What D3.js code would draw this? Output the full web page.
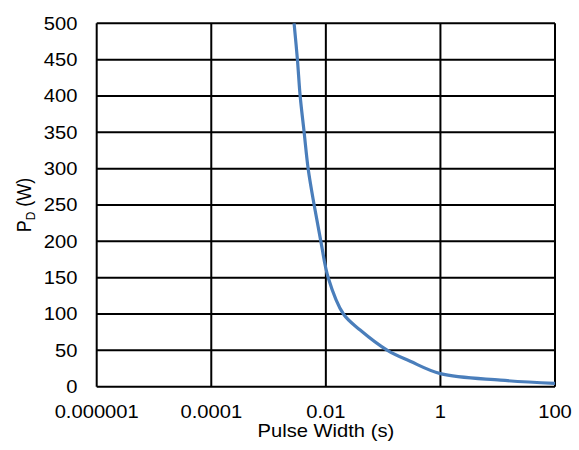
<!DOCTYPE html>
<html>
<head>
<meta charset="utf-8">
<script src="https://cdn.jsdelivr.net/npm/d3@7"></script>
<style>
  html, body { margin: 0; padding: 0; background: #fff; }
  svg { display: block; }
  text { font-family: "Liberation Sans", Arial, sans-serif; fill: #000; }
</style>
</head>
<body>
<svg id="chart" width="579" height="450"></svg>
<script>
// Maximum power dissipation versus pulse width
const pulseWidth = [0.00279, 0.00319, 0.00356, 0.00418, 0.00491, 0.00625, 0.00818, 0.011, 0.0203, 0.0397, 0.119, 0.297, 1, 11.2, 100];
const powerW     = [500, 450, 400, 350, 300, 250, 200, 150, 100, 78, 50, 35, 18, 9, 4.5];

const xTickValues = [1e-6, 1e-4, 1e-2, 1, 100];
const xTickLabels = ["0.000001", "0.0001", "0.01", "1", "100"];
const yTickValues = [0, 50, 100, 150, 200, 250, 300, 350, 400, 450, 500];
const yTickLabels = ["0", "50", "100", "150", "200", "250", "300", "350", "400", "450", "500"];

const plot = { left: 96.7, right: 555, top: 23.3, bottom: 386.7 };
const stretch = 1.12; // horizontal glyph width factor
const fontSize = 18;

const svg = d3.select("#chart");

const x = d3.scaleLog().domain([1e-6, 100]).range([plot.left, plot.right]);
const y = d3.scaleLinear().domain([0, 500]).range([plot.bottom, plot.top]);

// grid
const grid = svg.append("g").attr("stroke", "#000").attr("stroke-width", 2);
grid.selectAll("line.h").data(yTickValues).join("line")
  .attr("x1", plot.left).attr("x2", plot.right)
  .attr("y1", d => y(d)).attr("y2", d => y(d));
grid.selectAll("line.v").data(xTickValues).join("line")
  .attr("y1", plot.top).attr("y2", plot.bottom)
  .attr("x1", d => x(d)).attr("x2", d => x(d));

// curve, clipped to the plot area
svg.append("clipPath").attr("id", "plotClip").append("rect")
  .attr("x", plot.left).attr("y", plot.top - 1)
  .attr("width", plot.right - plot.left + 2).attr("height", plot.bottom - plot.top + 1);

const pts = pulseWidth.map((t, i) => [t, powerW[i]]);
const line = d3.line()
  .x(d => x(d[0])).y(d => y(d[1]))
  .curve(d3.curveCatmullRom.alpha(0.5));
svg.append("path")
  .attr("clip-path", "url(#plotClip)")
  .attr("d", line(pts))
  .attr("fill", "none")
  .attr("stroke", "#4a7ebb")
  .attr("stroke-width", 3.2)
  .attr("stroke-linejoin", "round");

function label(px, py, str, anchor) {
  const g = svg.append("g").attr("transform", `translate(${px},${py}) scale(${stretch},1)`);
  return g.append("text").attr("text-anchor", anchor).attr("font-size", fontSize).text(str);
}

// y tick labels
yTickValues.forEach((v, i) => label(77.5, y(v) + 6.4, yTickLabels[i], "end"));
// x tick labels
xTickValues.forEach((v, i) => label(x(v), 418.3, xTickLabels[i], "middle"));

// x axis title
label((plot.left + plot.right) / 2, 436.7, "Pulse Width (s)", "middle");

// y axis title with subscript
const yt = svg.append("g")
  .attr("transform", `translate(30.5,${(plot.top + plot.bottom) / 2}) scale(${stretch},1) rotate(-90)`)
  .append("text").attr("text-anchor", "middle").attr("font-size", fontSize);
yt.append("tspan").text("P");
yt.append("tspan").attr("font-size", 12).attr("dy", 4).text("D");
yt.append("tspan").attr("dy", -4).text(" (W)");
</script>
</body>
</html>
